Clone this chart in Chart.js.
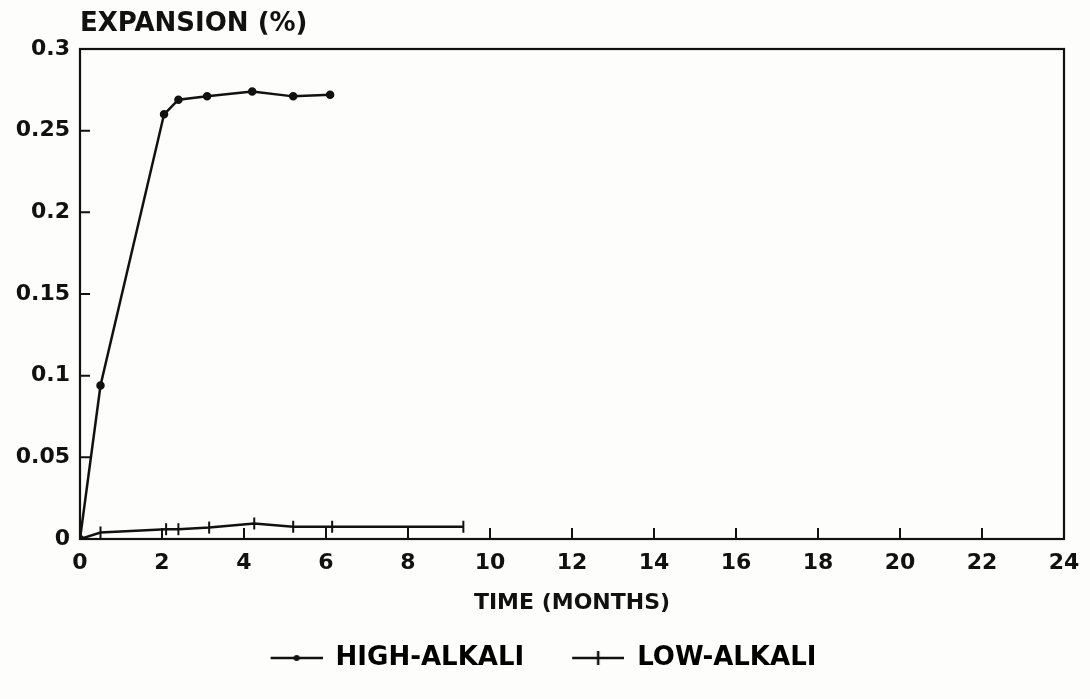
<!DOCTYPE html>
<html>
<head>
<meta charset="utf-8">
<script src="https://cdn.jsdelivr.net/npm/chart.js@4.4.0/dist/chart.umd.min.js"></script>
<style>
  html, body { margin: 0; padding: 0; background: #fdfdfb; }
  #wrap { width: 1090px; height: 699px; }
</style>
</head>
<body>
<div id="wrap"><canvas id="myChart"></canvas></div>
<script>
// values
var highMonths = [0, 0.5, 2.05, 2.4, 3.1, 4.2, 5.2, 6.1];
var highValues = [0, 0.094, 0.26, 0.269, 0.271, 0.274, 0.271, 0.272];
var lowMonths = [0, 0.5, 2.1, 2.4, 3.15, 4.25, 5.2, 6.15, 9.35];
var lowValues = [0, 0.004, 0.006, 0.006, 0.007, 0.0095, 0.0075, 0.0075, 0.0075];
var xTickLabels = ['0', '2', '4', '6', '8', '10', '12', '14', '16', '18', '20', '22', '24'];
var yTickLabels = ['0', '0.05', '0.1', '0.15', '0.2', '0.25', '0.3'];

var ink = '#111';
var fontFamily = '"DejaVu Sans", sans-serif';
var swatchLead = 23;

function toPoints(xs, ys) {
  return xs.map(function (x, i) { return { x: x, y: ys[i] }; });
}

// legend swatches: a line with the marker on it, blank space on the left
function swatch(kind) {
  var c = document.createElement('canvas');
  c.width = 52 + swatchLead; c.height = 16;
  var g = c.getContext('2d');
  var x0 = swatchLead;
  g.strokeStyle = ink; g.fillStyle = ink; g.lineWidth = 2.5;
  g.beginPath(); g.moveTo(x0, 8); g.lineTo(x0 + 52, 8); g.stroke();
  if (kind === 'dot') {
    g.beginPath(); g.arc(x0 + 26, 8, 3, 0, Math.PI * 2); g.fill();
  } else {
    g.beginPath(); g.moveTo(x0 + 26, 1); g.lineTo(x0 + 26, 15); g.stroke();
  }
  return c;
}

var framePlugin = {
  id: 'frame',
  beforeDraw: function (chart) {
    var g = chart.ctx;
    g.save();
    g.fillStyle = '#fdfdfb';
    g.fillRect(0, 0, chart.width, chart.height);
    g.restore();
  },
  afterDraw: function (chart) {
    var g = chart.ctx, a = chart.chartArea;
    var xs = chart.scales.x, ys = chart.scales.y;
    g.save();
    g.strokeStyle = ink;
    g.lineWidth = 2.2;
    g.strokeRect(a.left, a.top, a.right - a.left, a.bottom - a.top);
    // inward tick marks
    g.lineWidth = 2;
    g.beginPath();
    xs.ticks.forEach(function (t) {
      var px = xs.getPixelForValue(t.value);
      g.moveTo(px, a.bottom); g.lineTo(px, a.bottom - 11);
    });
    ys.ticks.forEach(function (t) {
      var py = ys.getPixelForValue(t.value);
      g.moveTo(a.left, py); g.lineTo(a.left + 10, py);
    });
    g.stroke();
    // y axis caption above the frame
    g.fillStyle = ink;
    g.font = 'bold 26px ' + fontFamily;
    g.textBaseline = 'middle';
    g.fillText('EXPANSION (%)', a.left, 24);
    g.restore();
  }
};

var data = {
  datasets: [{
    label: 'HIGH-ALKALI',
    data: toPoints(highMonths, highValues),
    borderColor: ink,
    backgroundColor: ink,
    borderWidth: 2.5,
    pointRadius: 3,
    pointStyle: 'circle',
    tension: 0
  }, {
    label: 'LOW-ALKALI',
    data: toPoints(lowMonths, lowValues),
    borderColor: ink,
    backgroundColor: ink,
    borderWidth: 2.5,
    pointRadius: 6,
    pointBorderWidth: 2,
    pointStyle: 'line',
    pointRotation: 90,
    tension: 0
  }]
};

var legendIcons = [swatch('dot'), swatch('cross')];

const config = {
  type: 'line',
  data: data,
  options: {
    responsive: true,
    maintainAspectRatio: false,
    animation: false,
    layout: { padding: { top: 49, right: 26, bottom: 18, left: 0 } },
    plugins: {
      tooltip: { enabled: false },
      legend: {
        position: 'bottom',
        labels: {
          usePointStyle: true,
          pointStyleWidth: 52 + swatchLead,
          color: ink,
          padding: 25,
          font: { family: fontFamily, size: 26, weight: 'bold' },
          generateLabels: function (chart) {
            return chart.data.datasets.map(function (ds, i) {
              return {
                text: ds.label,
                pointStyle: legendIcons[i],
                fillStyle: ink,
                strokeStyle: ink,
                lineWidth: 0,
                datasetIndex: i
              };
            });
          }
        }
      }
    },
    scales: {
      x: {
        type: 'linear',
        min: 0,
        max: 24,
        grid: { display: false },
        border: { display: false },
        afterFit: function (scale) { scale.height = 81; },
        ticks: {
          stepSize: 2,
          padding: 3,
          color: ink,
          font: { family: fontFamily, size: 22, weight: 'bold' },
          callback: function (value, index) { return xTickLabels[index]; }
        },
        title: {
          display: true,
          text: 'TIME (MONTHS)',
          color: ink,
          padding: { top: 4 },
          font: { family: fontFamily, size: 22, weight: 'bold' }
        }
      },
      y: {
        min: 0,
        max: 0.3,
        grid: { display: false },
        border: { display: false },
        afterFit: function (scale) { scale.width = 80; },
        ticks: {
          stepSize: 0.05,
          padding: 2,
          color: ink,
          font: { family: fontFamily, size: 22, weight: 'bold' },
          callback: function (value, index) { return yTickLabels[index]; }
        }
      }
    }
  },
  plugins: [framePlugin]
};

var myChart = new Chart(document.getElementById('myChart'), config);
</script>
</body>
</html>
